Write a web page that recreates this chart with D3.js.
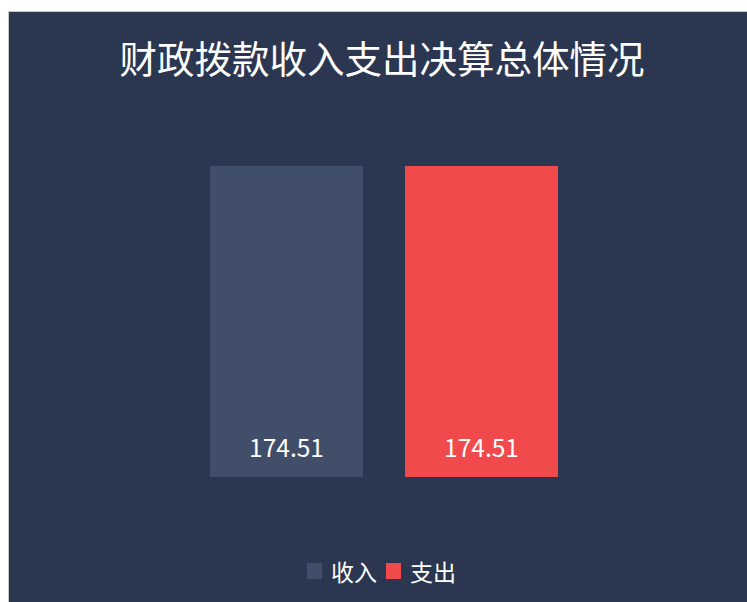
<!DOCTYPE html>
<html>
<head>
<meta charset="utf-8">
<script src="https://cdn.jsdelivr.net/npm/d3@7"></script>
<style>
  html, body { margin: 0; padding: 0; background: #fff; }
  svg { display: block; }
</style>
</head>
<body>
<div id="chart"></div>
<script>
const title = "财政拨款收入支出决算总体情况";
const categories = ["收入", "支出"];
const values = [174.51, 174.51];
const colors = ["#414e6a", "#f04a4c"];

const W = 747, H = 602;
const font = "'Noto Sans CJK SC', 'Noto Sans', sans-serif";

const svg = d3.select("#chart")
  .append("svg")
  .attr("width", W)
  .attr("height", H);

// panel with thin grey border
svg.append("rect")
  .attr("x", 8.5).attr("y", 11.5)
  .attr("width", W).attr("height", H)
  .attr("fill", "#2b3750")
  .attr("stroke", "#c8c8c8")
  .attr("stroke-width", 1);

svg.append("text")
  .text(title)
  .attr("x", 382)
  .attr("y", 56)
  .attr("text-anchor", "middle")
  .attr("dominant-baseline", "central")
  .attr("fill", "#ffffff")
  .attr("font-family", font)
  .attr("font-size", 37.5);

const x = d3.scaleBand(categories, [210, 558]).paddingInner(42 / 195).paddingOuter(0);
const y = d3.scaleLinear([0, d3.max(values)], [477, 166]);

const bars = svg.append("g");
bars.selectAll("rect")
  .data(values)
  .join("rect")
  .attr("x", (d, i) => x(categories[i]))
  .attr("y", d => y(d))
  .attr("width", x.bandwidth())
  .attr("height", d => y(0) - y(d))
  .attr("fill", (d, i) => colors[i]);

bars.selectAll("text")
  .data(values)
  .join("text")
  .text(d => d.toFixed(2))
  .attr("x", (d, i) => x(categories[i]) + x.bandwidth() / 2)
  .attr("y", y(0) - 31)
  .attr("text-anchor", "middle")
  .attr("dominant-baseline", "central")
  .attr("fill", "#ffffff")
  .attr("font-family", font)
  .attr("font-size", 24.5);

// legend
const legend = svg.append("g");
const lx = [307, 386];
categories.forEach((c, i) => {
  legend.append("rect")
    .attr("x", lx[i]).attr("y", 563)
    .attr("width", 15).attr("height", 16)
    .attr("fill", colors[i]);
  legend.append("text")
    .text(c)
    .attr("x", lx[i] + 24)
    .attr("y", 571)
    .attr("dominant-baseline", "central")
    .attr("fill", "#ffffff")
    .attr("font-family", font)
    .attr("font-size", 23);
});
</script>
</body>
</html>
